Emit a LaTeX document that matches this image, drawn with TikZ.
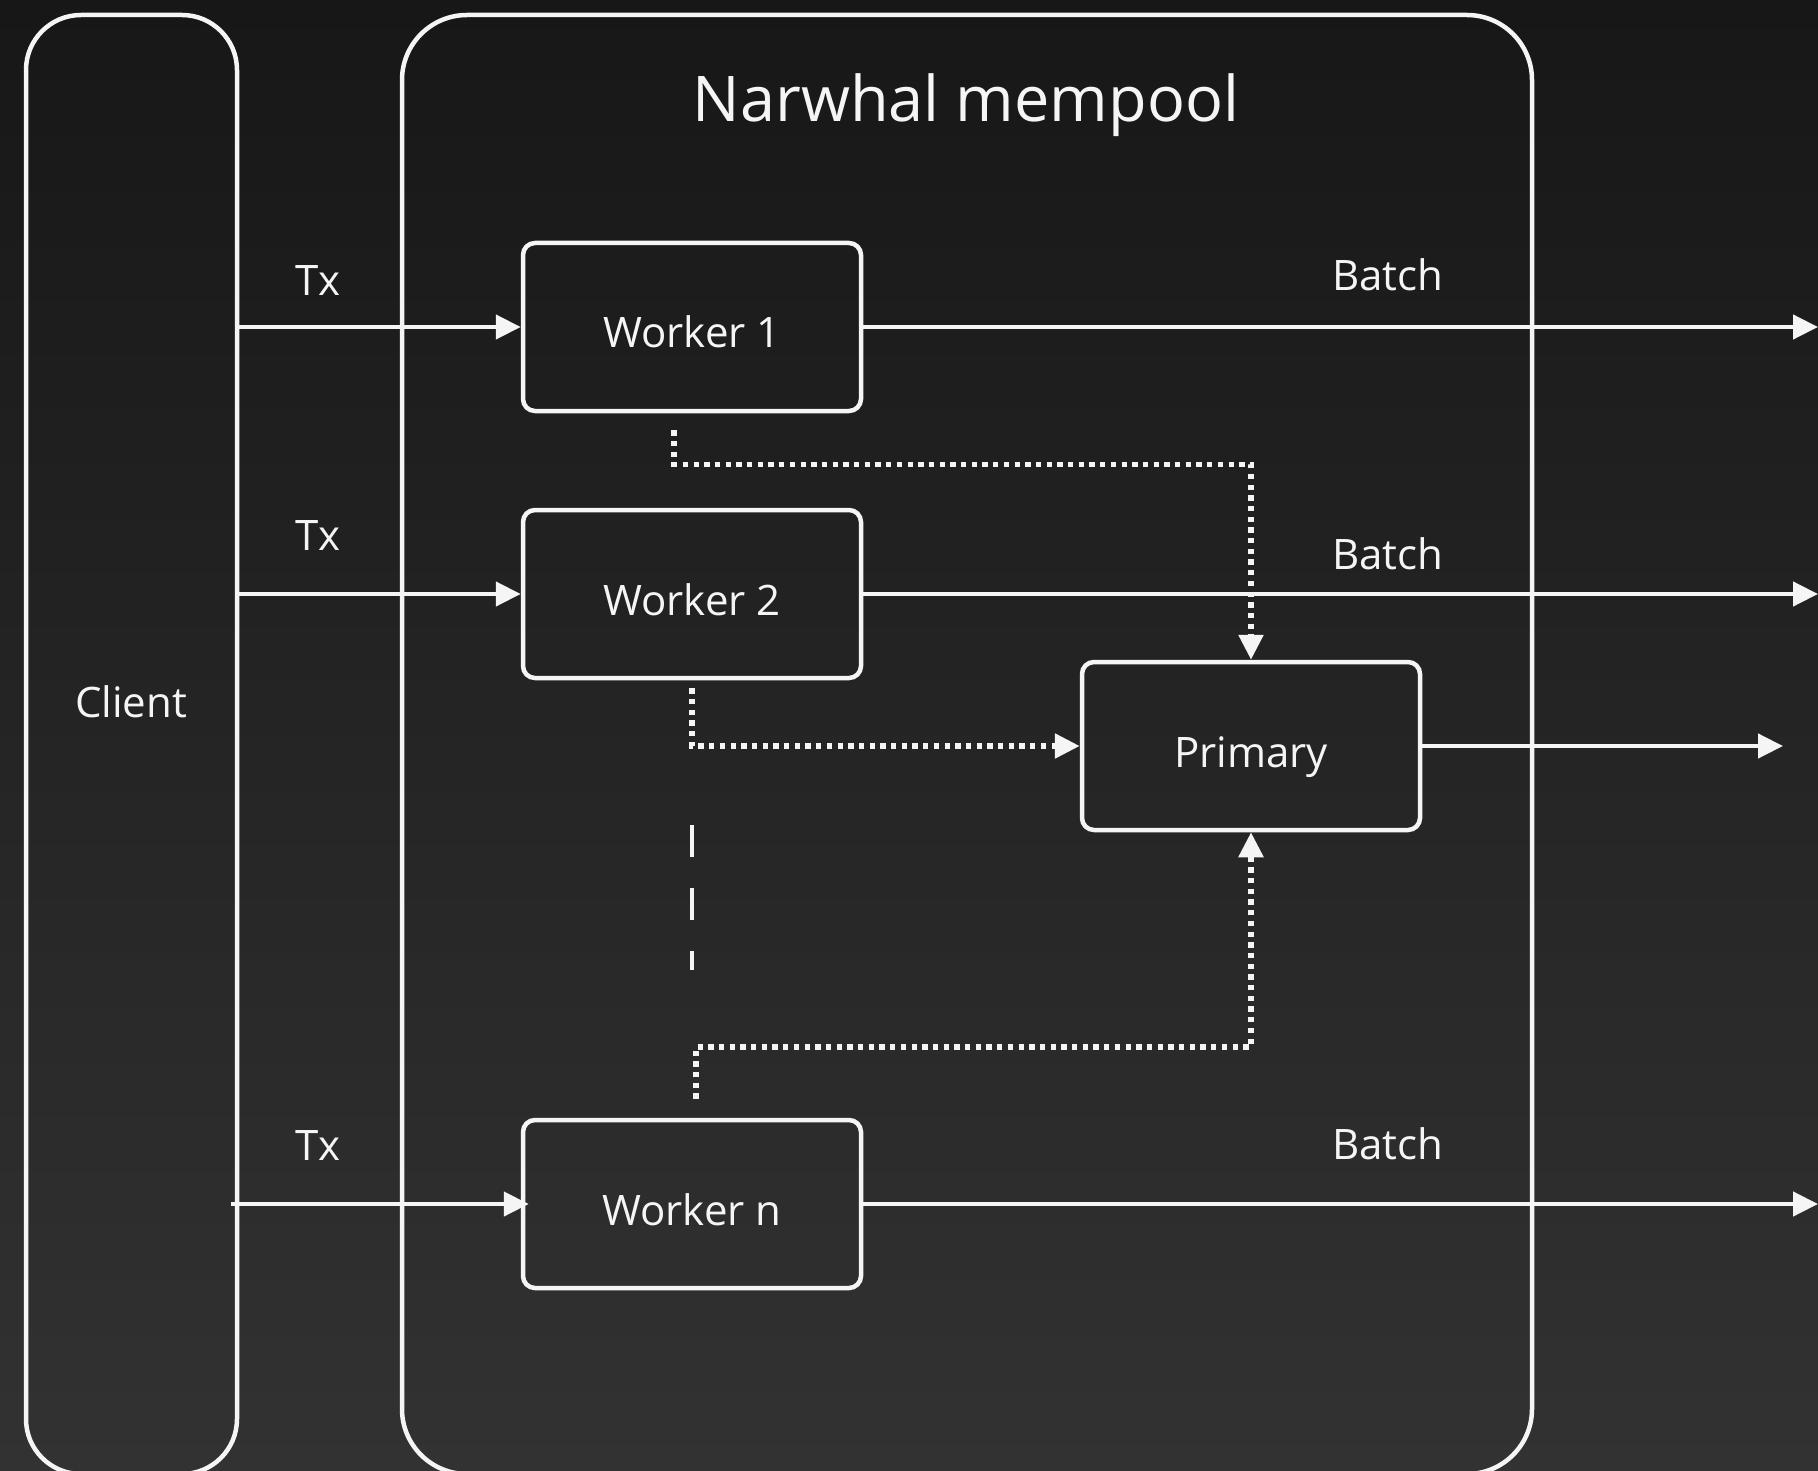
\documentclass[tikz,border=0pt]{standalone}
\usepackage{fontspec}
\setmainfont{Open Sans}
\usetikzlibrary{arrows.meta}
\definecolor{bgtop}{HTML}{171717}
\definecolor{bgbot}{HTML}{323232}
\definecolor{fg}{HTML}{F5F5F5}
\tikzset{
  container/.style={draw=fg, line width=4.5pt, rounded corners=55pt, inner sep=0pt},
  wbox/.style={draw=fg, line width=4.5pt, rounded corners=12pt, minimum width=338pt, minimum height=168pt, inner sep=0pt, text height=42pt, text depth=0pt, text=fg, font=\fontsize{42}{50}\selectfont},
  lbl/.style={text=fg, font=\fontsize{42}{50}\selectfont, inner sep=0pt},
  ttl/.style={text=fg, font=\fontsize{63}{75}\selectfont, inner sep=0pt},
  arr/.style={draw=fg, line width=4.5pt, -{Triangle[length=25pt,width=24pt]}},
  dotarr/.style={draw=fg, line width=5.5pt, dash pattern=on 5.3pt off 5.4pt, -{Triangle[length=25pt,width=24pt]}},
  dashline/.style={draw=fg, line width=4.5pt, dash pattern=on 32pt off 31pt}
}
\begin{document}
\begin{tikzpicture}[x=1pt,y=-1pt]
\useasboundingbox (0,0) rectangle (1818,1471);
\shade[top color=bgtop, bottom color=bgbot] (0pt,0pt) rectangle (1818pt,-1471pt);
% containers
\node[container, minimum width=211pt, minimum height=1459pt] (client) at (131.5,744.5) {};
\node[container, rounded corners=65pt, minimum width=1130pt, minimum height=1459pt] (mempool) at (967,744.5) {};
\node[lbl] (clientlbl) at (131,702) {Client};
\node[ttl] (title) at (966,105) {Narwhal mempool};
% boxes
\node[wbox] (w1) at (692,327) {Worker 1};
\node[wbox] (w2) at (692,594) {Worker 2};
\node[wbox] (wn) at (692,1204) {Worker n};
\node[wbox] (pr) at (1251,746) {Primary};
% labels
\node[lbl] (tx1) at (318,281) {Tx};
\node[lbl] (tx2) at (318,536) {Tx};
\node[lbl] (txn) at (318,1145) {Tx};
\node[lbl] (b1) at (1388,275) {Batch};
\node[lbl] (b2) at (1388,554) {Batch};
\node[lbl] (bn) at (1388,1144) {Batch};
% coordinates
\coordinate (rx) at (1818,0);
\coordinate (pout) at (1783,746);
\coordinate (ds) at (692,825);
\coordinate (de) at (692,970);
% Tx arrows
\draw[arr] (client.east |- w1.west) -- (w1.west);
\draw[arr] (client.east |- w2.west) -- (w2.west);
\draw[arr] ([xshift=-8pt]client.east |- wn.west) -- ([xshift=8pt]wn.west);
% Batch arrows
\draw[arr] (w1.east) -- (w1.east -| rx);
\draw[arr] (w2.east) -- (w2.east -| rx);
\draw[arr] (wn.east) -- (wn.east -| rx);
\draw[arr] (pr.east) -- (pout);
% dotted
\draw[dotarr] ([shift={(-18,17)}]w1.south) -- ++(0,34) -| (pr.north);
\draw[dotarr] ([yshift=-8pt]w2.south) |- (pr.west);
\draw[dotarr] ([shift={(4,-19)}]wn.north) -- ++(0,-52) -| (pr.south);
% dashed
\draw[dashline] (ds) -- (de);
\end{tikzpicture}
\end{document}
